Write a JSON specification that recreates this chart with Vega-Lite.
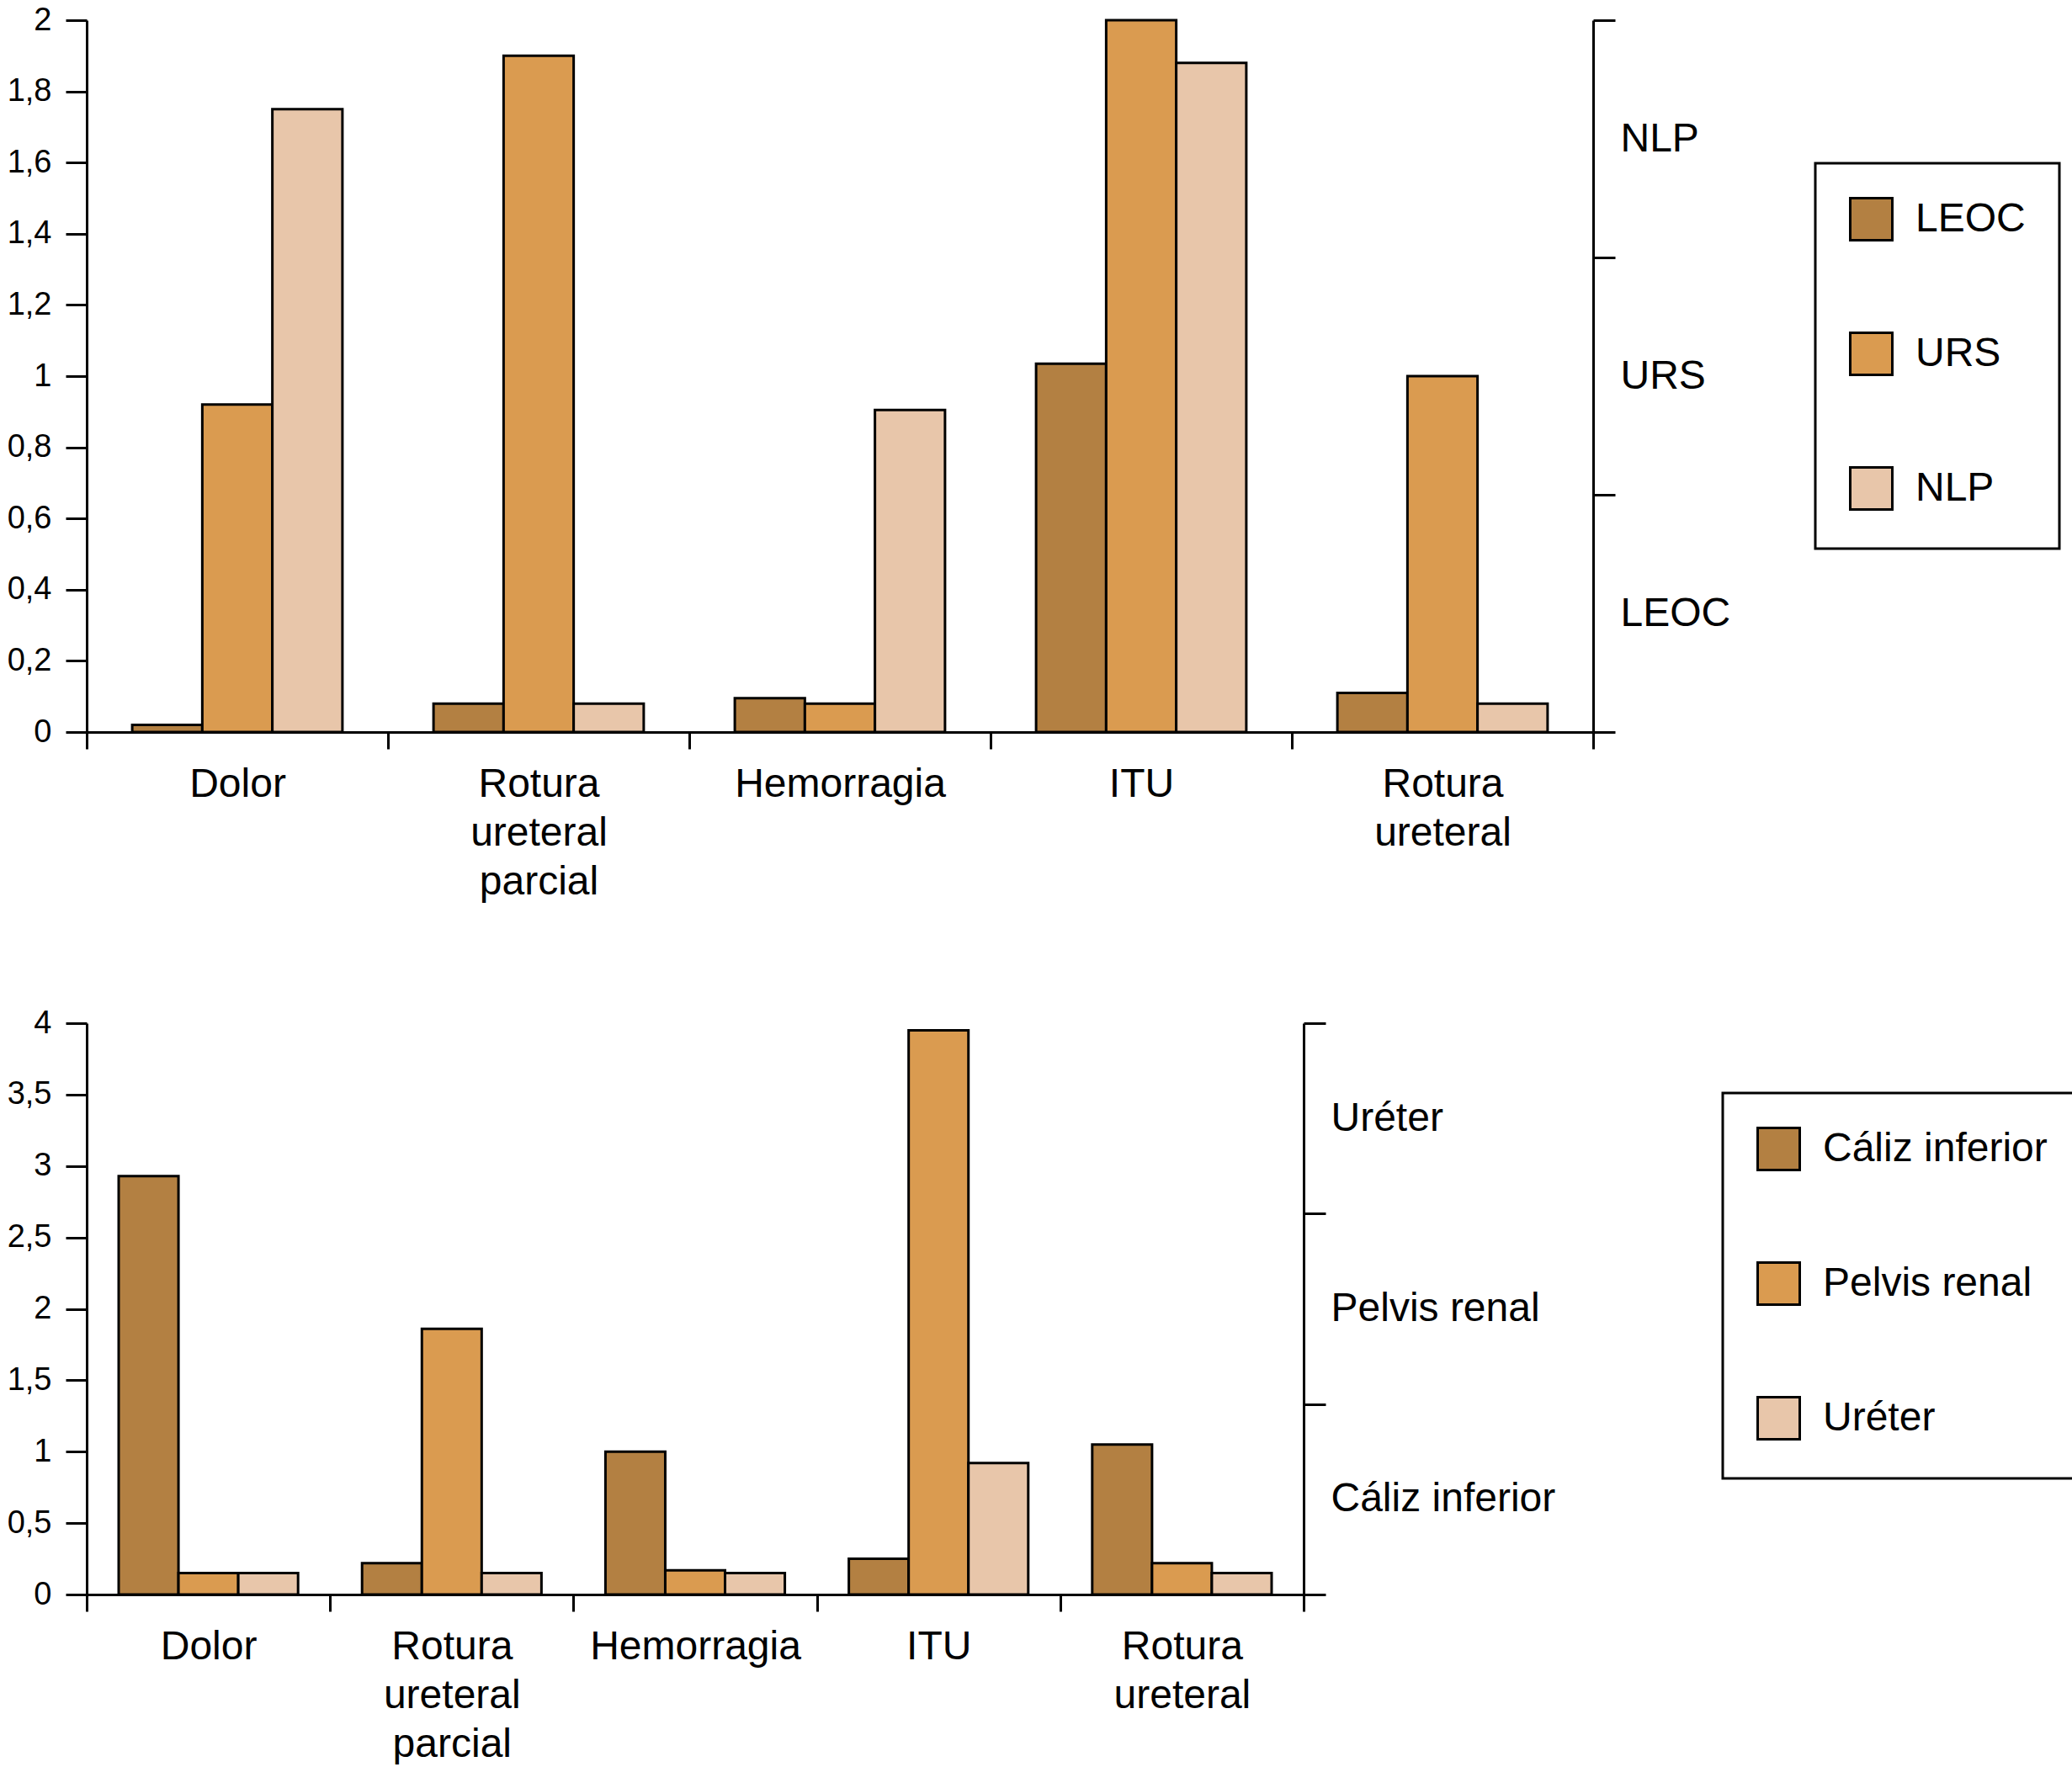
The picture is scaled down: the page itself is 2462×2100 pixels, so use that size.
{
  "$schema": "https://vega.github.io/schema/vega-lite/v6.json",
  "padding": {"left": 8, "top": 5, "right": 0, "bottom": 0},
  "background": "white",
  "spacing": 125,
  "resolve": {
    "scale": {"x": "independent", "xOffset": "independent", "color": "independent"},
    "legend": {"color": "independent"}
  },
  "config": {
    "font": "Liberation Sans",
    "view": {"stroke": null},
    "axis": {
      "domainColor": "black", "tickColor": "black", "labelColor": "black",
      "domainWidth": 3, "tickWidth": 3, "grid": false, "labelFont": "Liberation Sans", "labelLimit": 0
    },
    "legend": {
      "strokeColor": "black", "strokeWidth": 3, "padding": 40,
      "symbolType": "square", "symbolSize": 2500, "symbolStrokeColor": "black", "symbolStrokeWidth": 3,
      "labelFontSize": 48, "labelColor": "black", "labelOffset": 26, "rowPadding": 97,
      "labelFont": "Liberation Sans", "labelLimit": 0
    }
  },
  "datasets": {
    "top": [
      {"complicacion": "Dolor", "metodo": "LEOC", "valor": 0.02},
      {"complicacion": "Dolor", "metodo": "URS", "valor": 0.92},
      {"complicacion": "Dolor", "metodo": "NLP", "valor": 1.75},
      {"complicacion": "Rotura ureteral parcial", "metodo": "LEOC", "valor": 0.08},
      {"complicacion": "Rotura ureteral parcial", "metodo": "URS", "valor": 1.9},
      {"complicacion": "Rotura ureteral parcial", "metodo": "NLP", "valor": 0.08},
      {"complicacion": "Hemorragia", "metodo": "LEOC", "valor": 0.095},
      {"complicacion": "Hemorragia", "metodo": "URS", "valor": 0.08},
      {"complicacion": "Hemorragia", "metodo": "NLP", "valor": 0.905},
      {"complicacion": "ITU", "metodo": "LEOC", "valor": 1.035},
      {"complicacion": "ITU", "metodo": "URS", "valor": 2.0},
      {"complicacion": "ITU", "metodo": "NLP", "valor": 1.88},
      {"complicacion": "Rotura ureteral", "metodo": "LEOC", "valor": 0.11},
      {"complicacion": "Rotura ureteral", "metodo": "URS", "valor": 1.0},
      {"complicacion": "Rotura ureteral", "metodo": "NLP", "valor": 0.08}
    ],
    "bottom": [
      {"complicacion": "Dolor", "zona": "Cáliz inferior", "valor": 2.93},
      {"complicacion": "Dolor", "zona": "Pelvis renal", "valor": 0.15},
      {"complicacion": "Dolor", "zona": "Uréter", "valor": 0.15},
      {"complicacion": "Rotura ureteral parcial", "zona": "Cáliz inferior", "valor": 0.22},
      {"complicacion": "Rotura ureteral parcial", "zona": "Pelvis renal", "valor": 1.86},
      {"complicacion": "Rotura ureteral parcial", "zona": "Uréter", "valor": 0.15},
      {"complicacion": "Hemorragia", "zona": "Cáliz inferior", "valor": 1.0},
      {"complicacion": "Hemorragia", "zona": "Pelvis renal", "valor": 0.17},
      {"complicacion": "Hemorragia", "zona": "Uréter", "valor": 0.15},
      {"complicacion": "ITU", "zona": "Cáliz inferior", "valor": 0.25},
      {"complicacion": "ITU", "zona": "Pelvis renal", "valor": 3.95},
      {"complicacion": "ITU", "zona": "Uréter", "valor": 0.92},
      {"complicacion": "Rotura ureteral", "zona": "Cáliz inferior", "valor": 1.05},
      {"complicacion": "Rotura ureteral", "zona": "Pelvis renal", "valor": 0.22},
      {"complicacion": "Rotura ureteral", "zona": "Uréter", "valor": 0.15}
    ],
    "topRight": [
      {"eje": "LEOC", "pos": 0.5},
      {"eje": "URS", "pos": 1.5},
      {"eje": "NLP", "pos": 2.5}
    ],
    "bottomRight": [
      {"eje": "Cáliz inferior", "pos": 0.5},
      {"eje": "Pelvis renal", "pos": 1.5},
      {"eje": "Uréter", "pos": 2.5}
    ]
  },
  "vconcat": [
    {
      "width": 1790,
      "height": 846,
      "layer": [
        {
          "data": {"name": "top"},
          "mark": {"type": "bar", "stroke": "black", "strokeWidth": 3},
          "encoding": {
            "x": {
              "field": "complicacion", "type": "nominal",
              "sort": ["Dolor", "Rotura ureteral parcial", "Hemorragia", "ITU", "Rotura ureteral"],
              "scale": {"paddingInner": 0, "paddingOuter": 0},
              "axis": {
                "title": null, "labelAngle": 0, "tickBand": "extent",
                "labelExpr": "split(datum.label, ' ')",
                "labelFontSize": 48, "labelLineHeight": 58, "tickSize": 20, "labelPadding": 18
              }
            },
            "xOffset": {
              "field": "metodo", "type": "nominal",
              "scale": {"domain": ["LEOC", "URS", "NLP"], "paddingInner": 0, "paddingOuter": 0.65}
            },
            "y": {
              "field": "valor", "type": "quantitative",
              "scale": {"domain": [0, 2], "nice": false},
              "axis": {
                "title": null, "values": [0, 0.2, 0.4, 0.6, 0.8, 1, 1.2, 1.4, 1.6, 1.8, 2],
                "labelExpr": "replace(format(datum.value, '.1~f'), '.', ',')",
                "tickSize": 25, "labelPadding": 17, "labelFontSize": 38
              }
            },
            "color": {
              "field": "metodo", "type": "nominal",
              "scale": {"domain": ["LEOC", "URS", "NLP"], "range": ["#B38042", "#DA9B50", "#E8C6AA"]},
              "legend": {"title": null, "orient": "none", "legendX": 2054, "legendY": 170}
            }
          }
        },
        {
          "data": {"name": "topRight"},
          "mark": {"type": "point", "opacity": 0},
          "encoding": {
            "y": {
              "field": "pos", "type": "quantitative",
              "scale": {"domain": [0, 3], "nice": false},
              "axis": {
                "orient": "right", "title": null, "values": [0, 0.5, 1, 1.5, 2, 2.5, 3],
                "labelExpr": "datum.value == 0.5 ? 'LEOC' : datum.value == 1.5 ? 'URS' : datum.value == 2.5 ? 'NLP' : ''",
                "tickOpacity": {"condition": {"test": "datum.value % 1 != 0", "value": 0}, "value": 1},
                "tickSize": 26, "labelPadding": 6, "labelFontSize": 48
              }
            }
          }
        }
      ],
      "resolve": {"scale": {"y": "independent"}}
    },
    {
      "width": 1446,
      "height": 679,
      "layer": [
        {
          "data": {"name": "bottom"},
          "mark": {"type": "bar", "stroke": "black", "strokeWidth": 3},
          "encoding": {
            "x": {
              "field": "complicacion", "type": "nominal",
              "sort": ["Dolor", "Rotura ureteral parcial", "Hemorragia", "ITU", "Rotura ureteral"],
              "scale": {"paddingInner": 0, "paddingOuter": 0},
              "axis": {
                "title": null, "labelAngle": 0, "tickBand": "extent",
                "labelExpr": "split(datum.label, ' ')",
                "labelFontSize": 48, "labelLineHeight": 58, "tickSize": 20, "labelPadding": 18
              }
            },
            "xOffset": {
              "field": "zona", "type": "nominal",
              "scale": {"domain": ["Cáliz inferior", "Pelvis renal", "Uréter"], "paddingInner": 0, "paddingOuter": 0.535}
            },
            "y": {
              "field": "valor", "type": "quantitative",
              "scale": {"domain": [0, 4], "nice": false},
              "axis": {
                "title": null, "values": [0, 0.5, 1, 1.5, 2, 2.5, 3, 3.5, 4],
                "labelExpr": "replace(format(datum.value, '.1~f'), '.', ',')",
                "tickSize": 25, "labelPadding": 17, "labelFontSize": 38
              }
            },
            "color": {
              "field": "zona", "type": "nominal",
              "scale": {"domain": ["Cáliz inferior", "Pelvis renal", "Uréter"], "range": ["#B38042", "#DA9B50", "#E8C6AA"]},
              "legend": {"title": null, "orient": "none", "legendX": 1944, "legendY": 83}
            }
          }
        },
        {
          "data": {"name": "bottomRight"},
          "mark": {"type": "point", "opacity": 0},
          "encoding": {
            "y": {
              "field": "pos", "type": "quantitative",
              "scale": {"domain": [0, 3], "nice": false},
              "axis": {
                "orient": "right", "title": null, "values": [0, 0.5, 1, 1.5, 2, 2.5, 3],
                "labelExpr": "datum.value == 0.5 ? 'Cáliz inferior' : datum.value == 1.5 ? 'Pelvis renal' : datum.value == 2.5 ? 'Uréter' : ''",
                "tickOpacity": {"condition": {"test": "datum.value % 1 != 0", "value": 0}, "value": 1},
                "tickSize": 26, "labelPadding": 6, "labelFontSize": 48
              }
            }
          }
        }
      ],
      "resolve": {"scale": {"y": "independent"}}
    }
  ]
}
